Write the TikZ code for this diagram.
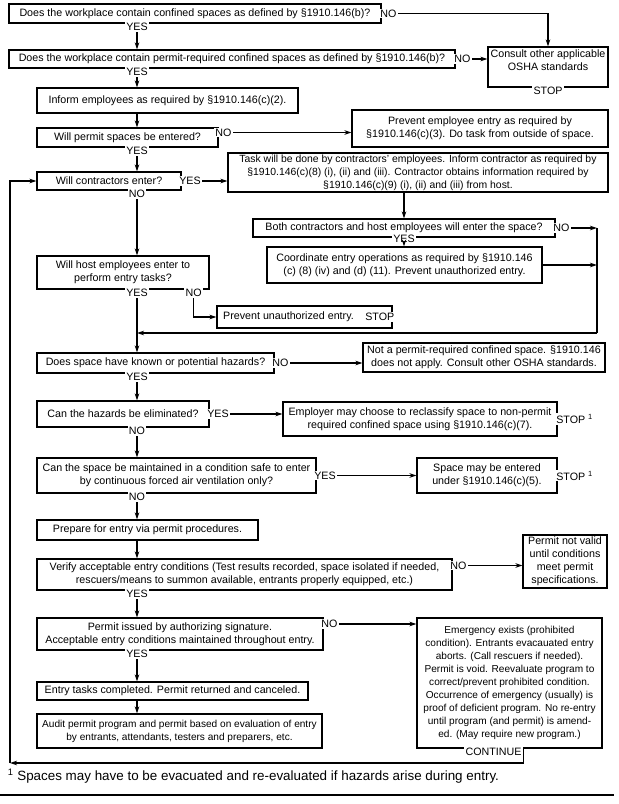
\documentclass[tikz,border=0pt]{standalone}
\usepackage{fontspec}
\setmainfont{Liberation Sans}
\usetikzlibrary{arrows.meta}
\newcommand\boxfont{\fontsize{10.7}{13}\selectfont}
\newcommand\tightfont{\fontsize{10.1}{13}\selectfont}

\begin{document}
\begin{tikzpicture}[x=1pt,y=-1pt,line width=1.1pt,
  box/.style={draw,inner sep=0pt,align=center,font=\boxfont},
  lbl/.style={fill=white,inner sep=1.2pt,font=\boxfont},
  dn/.style={lbl,yshift=-3pt},
  arr/.style={-{Stealth[length=7pt,width=4.5pt]}}]
\useasboundingbox (0,0) rectangle (619,804);

\coordinate(sp)at(137,0);%% main line
\coordinate(rx)at(597,226);
\coordinate(back)at(597,333);
\coordinate(corner)at(10,763);

\node[box,minimum width=372pt,minimum height=19pt](q1)at(195,13.5){Does the workplace contain confined spaces as defined by §1910.146(b)?};
\node[box,minimum width=446pt,minimum height=18pt](q2)at(232,59){Does the workplace contain permit-required confined spaces as defined by §1910.146(b)?};
\node[box,minimum width=120pt,minimum height=40pt](osha)at(548,67){Consult other applicable\\OSHA standards\\\phantom{STOP}};
\node[box,minimum width=261pt,minimum height=25pt](inform)at(167.5,100.5){Inform employees as required by §1910.146(c)(2).};
\node[box,minimum width=181pt,minimum height=19pt](q3)at(127.5,137.5){Will permit spaces be entered?};
\node[box,minimum width=256pt,minimum height=37pt](prev)at(480,128.5){Prevent employee entry as required by\\§1910.146(c)(3). Do task from outside of space.};
\node[box,minimum width=144pt,minimum height=18pt](q4)at(109,181){Will contractors enter?};
\node[box,font=\fontsize{10.4}{13}\selectfont,minimum width=380pt,minimum height=39pt](task)at(418,172.5){Task will be done by contractors' employees. Inform contractor as required by\\§1910.146(c)(8) (i), (ii) and (iii). Contractor obtains information required by\\§1910.146(c)(9) (i), (ii) and (iii) from host.};
\node[box,minimum width=302pt,minimum height=18pt](both)at(404,228){Both contractors and host employees will enter the space?};
\node[box,minimum width=275pt,minimum height=36pt](coord)at(404.5,265){Coordinate entry operations as required by §1910.146\\(c) (8) (iv) and (d) (11). Prevent unauthorized entry.};
\node[box,minimum width=172pt,minimum height=33pt](q5)at(123,272.5){Will host employees enter to\\perform entry tasks?};
\node[box,minimum width=175pt,minimum height=22pt](prevu)at(304.5,317){Prevent unauthorized entry.\hspace*{32pt}};
\node[box,minimum width=237pt,minimum height=20pt](q6)at(155.5,363){Does space have known or potential hazards?};
\node[box,minimum width=242pt,minimum height=29pt](notp)at(484,357.5){Not a permit-required confined space. §1910.146\\does not apply. Consult other OSHA standards.};
\node[box,minimum width=172pt,minimum height=26pt](q7)at(123,414){Can the hazards be eliminated?};
\node[box,minimum width=274pt,minimum height=34pt](emp)at(420,419){Employer may choose to reclassify space to non-permit\\required confined space using §1910.146(c)(7).};
\node[box,minimum width=279pt,minimum height=35pt](q8)at(176.5,475.5){Can the space be maintained in a condition safe to enter\\by continuous forced air ventilation only?};
\node[box,minimum width=140pt,minimum height=35pt](space)at(487,475.5){Space may be entered\\under §1910.146(c)(5).};
\node[box,minimum width=221pt,minimum height=20pt](prep)at(147.5,530){Prepare for entry via permit procedures.};
\node[box,minimum width=415pt,minimum height=31pt](ver)at(244.5,574.5){Verify acceptable entry conditions (Test results recorded, space isolated if needed,\\rescuers/means to summon available, entrants properly equipped, etc.)};
\node[box,minimum width=84pt,minimum height=53pt](notv)at(565,561.5){Permit not valid\\until conditions\\meet permit\\specifications.};
\node[box,minimum width=286pt,minimum height=32pt](perm)at(180,634){Permit issued by authorizing signature.\\Acceptable entry conditions maintained throughout entry.};
\node[box,font=\tightfont,minimum width=185pt,minimum height=130pt](emer)at(509.5,683){Emergency exists (prohibited\\condition). Entrants evacauated entry\\aborts. (Call rescuers if needed).\\Permit is void. Reevaluate program to\\correct/prevent prohibited condition.\\Occurrence of emergency (usually) is\\proof of deficient program. No re-entry\\until program (and permit) is amend-\\ed. (May require new program.)};
\node[box,minimum width=271pt,minimum height=18pt](entry)at(172.5,691){Entry tasks completed. Permit returned and canceled.};
\node[box,font=\tightfont,minimum width=285pt,minimum height=34pt](audit)at(179.5,731){Audit permit program and permit based on evaluation of entry\\by entrants, attendants, testers and preparers, etc.};

\node[dn](q1y)at(q1.south -| sp){YES};
\node[lbl,anchor=west](q1n)at([xshift=-3pt]q1.east){NO};
\node[dn](q2y)at(q2.south -| sp){YES};
\node[lbl,anchor=west](q2n)at([xshift=-3pt]q2.east){NO};
\node[dn](stop1)at(osha.south){STOP};
\node[dn](q3y)at(q3.south -| sp){YES};
\node[lbl,anchor=west](q3n)at([xshift=-5pt,yshift=5pt]q3.east){NO};
\node[lbl,anchor=west](q4y)at([xshift=-4pt]q4.east){YES};
\node[dn](q4n)at(q4.south -| sp){NO};
\node[lbl,yshift=-1pt](bothy)at(both.south){YES};
\node[lbl,anchor=west](bothn)at([xshift=-4pt]both.east){NO};
\node[dn](q5y)at(q5.south -| sp){YES};
\node[dn](q5n)at([xshift=-16pt]q5.south east){NO};
\node[lbl,anchor=west](stop2)at([xshift=-29pt]prevu.east){STOP};
\node[dn](q6y)at(q6.south -| sp){YES};
\node[lbl,anchor=west](q6n)at([xshift=-4pt]q6.east){NO};
\node[dn](q7n)at(q7.south -| sp){NO};
\node[lbl,anchor=west](q7y)at([xshift=-4pt]q7.east){YES};
\node[lbl,anchor=west](stop3)at([xshift=-3pt]emp.east){STOP \textsuperscript{1}};
\node[dn](q8n)at(q8.south -| sp){NO};
\node[lbl,anchor=west](q8y)at([xshift=-4pt]q8.east){YES};
\node[lbl,anchor=west](stop4)at([xshift=-3pt]space.east){STOP \textsuperscript{1}};
\node[dn](very)at(ver.south -| sp){YES};
\node[lbl,anchor=west](vern)at([xshift=-4pt,yshift=9pt]ver.east){NO};
\node[dn](permy)at(perm.south -| sp){YES};
\node[lbl,anchor=west](permn)at([xshift=-4pt,yshift=10pt]perm.east){NO};
\node[dn](cont)at([xshift=-16pt]emer.south){CONTINUE};

\draw[arr](q1y)--(q1y |- q2.north);
\draw[arr](q1n.east)-|(osha.north);
\draw[arr](q2n.east)--(q2n.east -| osha.west);
\draw[arr](q2y)--(q2y |- inform.north);
\draw[arr](inform.south -| sp)--(q3.north -| sp);
\draw[arr](q3n.east)--(q3n.east -| prev.west);
\draw[arr](q3y)--(q3y |- q4.north);
\draw[arr](q4y.east)--(q4y.east -| task.west);
\draw[arr](q4n)--(q4n |- q5.north);
\draw[arr](task.south -| both.north)--(both.north);
\draw[arr](bothy)--(bothy |- coord.north);
\draw[arr](bothn.east)--(bothn.east -| rx);
\draw[arr](coord.east)--(coord.east -| rx);
\draw(bothn.east -| rx)--(back);
\draw[arr](back)--(back -| sp);
\draw[arr](q5n.south)|-(prevu.west);
\draw[arr](q5y)--(q5y |- q6.north);
\draw[arr](q6n.east)--(q6n.east -| notp.west);
\draw[arr](q6y)--(q6y |- q7.north);
\draw[arr](q7y.east)--(q7y.east -| emp.west);
\draw[arr](q7n)--(q7n |- q8.north);
\draw[arr](q8y.east)--(q8y.east -| space.west);
\draw[arr](q8n)--(q8n |- prep.north);
\draw[arr](prep.south -| sp)--(ver.north -| sp);
\draw[arr](vern.east)--(vern.east -| notv.west);
\draw[arr](very)--(very |- perm.north);
\draw[arr](permn.east)--(permn.east -| emer.west);
\draw[arr](permy)--(permy |- entry.north);
\draw[arr](entry.south -| sp)--(audit.north -| sp);
\draw[arr](cont.east |- emer.south)|-(corner);
\draw[arr](corner)|-(q4.west);

\node[anchor=west,font=\fontsize{13.4}{15}\selectfont](fn)at(4,776){\textsuperscript{1} Spaces may have to be evacuated and re-evaluated if hazards arise during entry.};
\draw[line width=2.5pt](0,795)--(614,795);
\end{tikzpicture}
\end{document}
